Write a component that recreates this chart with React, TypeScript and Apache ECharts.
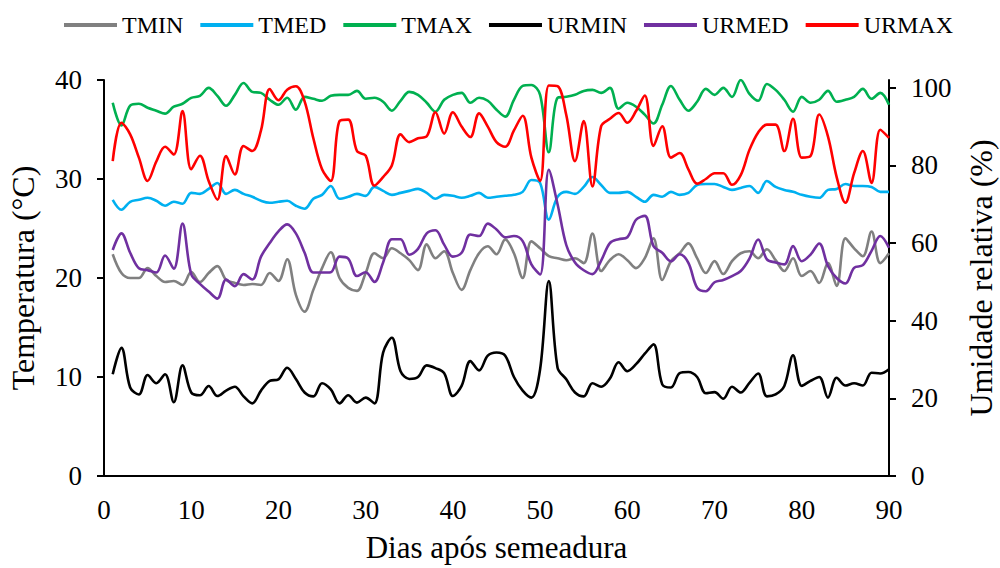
import React, { useEffect, useRef } from "react";
import * as echarts from "echarts";

const days: number[] = Array.from({ length: 90 }, (_, i) => i + 1);

const TMIN = [22.4,20.5,20.0,20.0,21.0,20.2,19.6,19.7,19.3,20.6,19.6,20.5,21.2,19.8,19.5,19.3,19.4,19.3,20.5,19.7,21.9,18.3,16.6,18.8,21.0,22.6,20.0,19.0,18.7,20.5,22.5,22.0,23.0,22.5,21.8,20.8,23.4,22.0,22.7,20.5,18.8,20.8,22.5,23.2,22.4,23.9,22.5,20.0,23.7,23.0,22.2,22.0,21.8,22.0,21.5,24.5,20.7,21.8,22.4,21.8,21.0,22.0,24.0,19.8,21.7,22.5,23.5,22.0,20.5,21.7,20.4,21.7,22.5,22.7,22.0,22.9,21.8,20.7,22.0,20.2,20.7,19.5,21.5,19.2,24.0,23.0,22.2,24.7,21.5,22.5];

const TMED = [27.9,26.9,27.7,27.9,28.1,27.8,27.3,27.7,27.5,28.6,28.5,29.0,29.6,28.5,28.9,28.5,28.2,27.8,27.6,27.7,27.8,27.3,27.0,28.0,28.4,29.3,28.0,28.2,28.5,28.3,29.2,28.8,28.4,28.6,28.8,29.0,28.6,28.0,28.4,28.3,28.1,28.3,28.6,28.1,28.2,28.3,28.4,28.7,29.9,29.6,25.9,28.2,28.7,28.5,29.2,30.2,29.4,28.6,28.6,28.7,28.2,27.7,28.4,28.2,28.7,28.4,28.6,29.4,29.5,29.5,29.2,28.9,29.1,29.3,28.6,29.8,29.2,28.9,28.7,28.4,28.2,28.1,28.9,29.0,29.5,29.3,29.3,29.2,28.7,28.7];

const TMAX = [37.7,35.4,37.4,37.6,37.2,36.9,36.6,37.3,37.6,38.2,38.4,39.2,38.4,37.4,38.5,39.7,38.8,38.7,38.0,37.5,38.2,37.0,38.3,38.1,37.9,38.4,38.5,38.5,38.9,38.1,38.2,37.8,36.9,37.9,38.8,38.5,37.7,36.8,38.0,38.5,38.7,37.7,38.2,37.9,37.0,36.3,38.0,39.4,39.5,38.5,32.7,38.2,38.3,38.5,38.9,39.0,38.7,39.2,37.1,37.7,37.3,36.5,35.6,37.5,39.4,38.0,36.9,37.8,39.1,38.5,39.2,38.3,40.0,38.6,37.9,39.6,39.0,38.0,36.8,38.3,37.7,38.0,38.9,37.8,38.0,38.3,39.1,38.1,38.7,37.5];

const URMIN = [26.2,33.0,22.8,21.0,26.0,23.9,26.2,19.0,28.5,21.5,20.8,23.2,20.6,22.0,23.0,20.5,18.7,22.0,24.5,24.9,27.9,25.0,21.5,20.5,23.9,22.3,18.7,20.8,18.9,20.2,18.7,31.8,35.6,27.0,25.0,25.5,28.5,27.8,26.5,20.6,23.2,29.6,27.2,31.0,31.8,31.0,25.5,22.0,20.2,27.5,50.2,27.9,24.9,21.5,20.5,23.9,23.0,25.1,29.3,27.0,28.8,31.5,33.9,23.6,22.8,26.5,26.8,25.5,21.3,21.6,19.9,23.0,21.5,24.0,26.4,20.5,21.0,23.2,31.1,23.2,24.5,25.5,20.2,25.3,23.3,23.9,23.3,26.6,26.4,27.5];

const URMED = [58.2,62.5,57.5,53.5,53.0,52.4,56.8,53.4,65.0,52.0,49.5,47.5,45.7,50.6,48.9,52.0,50.6,56.5,60.0,63.0,64.8,62.5,57.5,52.4,52.4,52.5,56.5,56.0,51.5,52.5,50.0,55.0,61.0,61.0,57.0,58.5,62.5,63.3,59.6,56.5,57.5,62.2,61.8,65.0,63.5,61.5,61.8,60.5,54.5,51.9,78.9,70.0,59.5,55.0,53.0,52.0,55.5,60.0,61.0,61.5,66.0,67.0,59.2,57.5,55.3,57.1,54.9,48.5,47.6,49.9,50.5,51.5,52.8,56.0,60.9,55.8,55.0,54.5,59.2,55.3,57.0,59.9,54.1,51.0,49.6,53.6,54.3,58.0,61.8,58.8];

const URMAX = [81.1,91.0,88.0,82.0,76.0,81.0,84.8,82.8,94.0,79.0,82.5,76.0,71.2,82.4,77.7,85.0,83.7,89.0,99.7,96.8,99.5,100.4,96.5,87.0,79.0,76.0,91.4,91.8,83.7,82.5,74.8,77.0,80.0,88.0,86.0,87.0,87.5,93.7,88.2,93.7,90.0,87.3,93.4,90.0,86.0,84.8,89.0,92.8,82.0,76.0,100.6,100.4,93.0,81.1,91.4,74.6,90.1,92.0,93.5,91.0,94.0,98.0,85.0,90.1,82.0,83.2,79.0,75.3,76.5,78.0,78.0,75.0,77.5,84.0,88.5,90.5,90.5,83.7,92.0,82.0,82.4,93.1,87.5,77.0,70.4,78.0,83.7,75.5,89.2,87.1];

const tempTicks = [0, 10, 20, 30, 40];
const humTicks = [0, 20, 40, 60, 80, 100];
const dayTicks = [0, 10, 20, 30, 40, 50, 60, 70, 80, 90];

const FONT = "'Liberation Serif', 'Times New Roman', serif";

const seriesDefs = [
  { name: "TMIN", data: TMIN, color: "#808080", axis: 0 },
  { name: "TMED", data: TMED, color: "#00B0F0", axis: 0 },
  { name: "TMAX", data: TMAX, color: "#00B050", axis: 0 },
  { name: "URMIN", data: URMIN, color: "#000000", axis: 1 },
  { name: "URMED", data: URMED, color: "#7030A0", axis: 1 },
  { name: "URMAX", data: URMAX, color: "#FF0000", axis: 1 },
];

export default function App() {
  const ref = useRef<HTMLDivElement>(null);
  useEffect(() => {
    document.body.style.margin = "0";
    const chart = echarts.init(ref.current!, null, { renderer: "svg" });
    chart.setOption({
      animation: false,
      textStyle: { fontFamily: FONT, color: "#000" },
      legend: {
        left: 59,
        top: 8,
        itemWidth: 53,
        itemHeight: 4,
        itemGap: 17,
        icon: "rect",
        textStyle: { fontFamily: FONT, fontSize: 24, color: "#000" },
        data: seriesDefs.map((s) => s.name),
      },
      grid: { left: 104, right: 111, top: 80, bottom: 92, containLabel: false, outerBoundsMode: "none" },
      xAxis: {
        type: "value",
        min: 0,
        max: 90,
        interval: 10,
        name: "Dias após semeadura",
        nameLocation: "middle",
        nameGap: 56,
        nameTextStyle: { fontFamily: FONT, fontSize: 31, color: "#000" },
        axisLine: { show: true, lineStyle: { color: "#000", width: 2 } },
        axisTick: { show: false },
        splitLine: { show: false },
        axisLabel: {
          fontFamily: FONT,
          fontSize: 27,
          color: "#000",
          margin: 20,
          customValues: dayTicks,
        },
      },
      yAxis: [
        {
          type: "value",
          min: 0,
          max: 40,
          interval: 10,
          position: "left",
          name: "Temperatura (°C)",
          nameLocation: "middle",
          nameRotate: 90,
          nameGap: 65,
          nameTextStyle: { fontFamily: FONT, fontSize: 32, color: "#000" },
          axisLine: { show: true, lineStyle: { color: "#000", width: 2 } },
          axisTick: { show: true, length: 7, lineStyle: { color: "#000", width: 2 }, customValues: tempTicks },
          splitLine: { show: false },
          axisLabel: { fontFamily: FONT, fontSize: 27, color: "#000", margin: 22, customValues: tempTicks },
        },
        {
          type: "value",
          min: 0,
          max: 102,
          position: "right",
          name: "Umidade relativa (%)",
          nameLocation: "middle",
          nameRotate: 90,
          nameGap: 76,
          nameTextStyle: { fontFamily: FONT, fontSize: 32, color: "#000" },
          axisLine: { show: true, lineStyle: { color: "#000", width: 2 } },
          axisTick: { show: true, length: 7, lineStyle: { color: "#000", width: 2 }, customValues: humTicks },
          splitLine: { show: false },
          axisLabel: { fontFamily: FONT, fontSize: 27, color: "#000", margin: 22, customValues: humTicks },
        },
      ],
      series: seriesDefs.map((s) => ({
        name: s.name,
        type: "line",
        yAxisIndex: s.axis,
        data: s.data.map((v, i) => [days[i], v]),
        smooth: 0.35,
        showSymbol: false,
        symbol: "none",
        lineStyle: { color: s.color, width: 2.6 },
        itemStyle: { color: s.color },
      })),
    });
    return () => chart.dispose();
  }, []);
  return <div ref={ref} style={{ width: 1000, height: 568 }} />;
}
